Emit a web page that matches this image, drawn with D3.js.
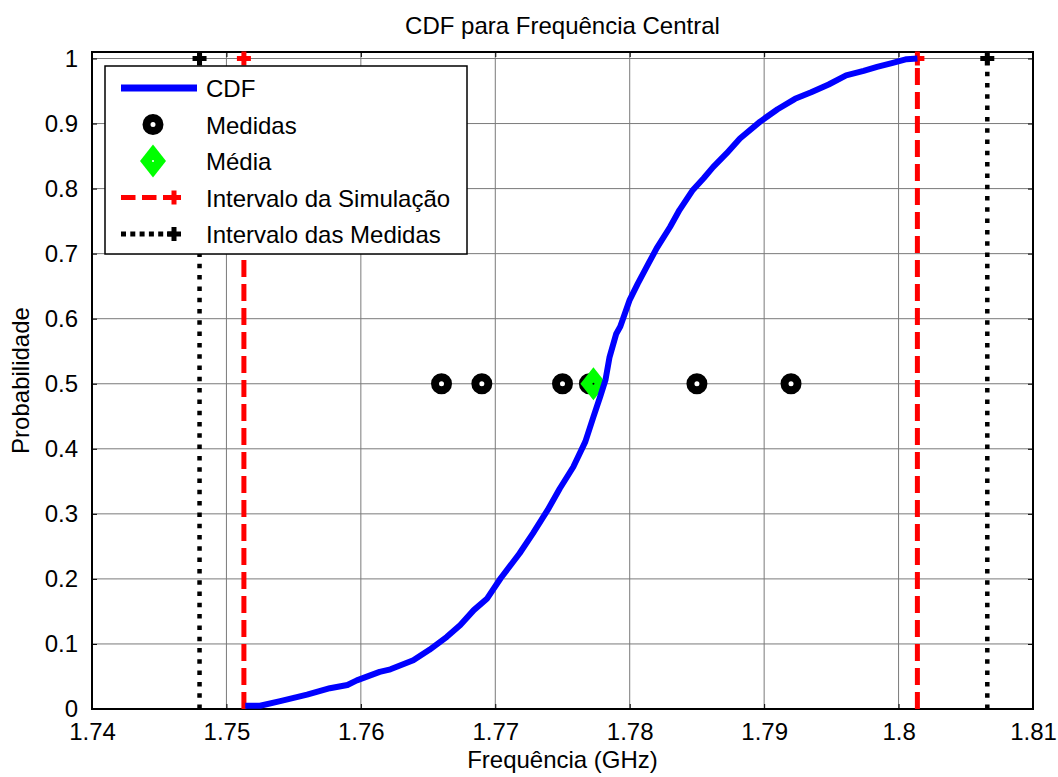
<!DOCTYPE html>
<html>
<head>
<meta charset="utf-8">
<script src="https://cdn.jsdelivr.net/npm/d3@7"></script>
<style>
  html, body { margin: 0; padding: 0; background: #fff; }
  svg { display: block; }
  text { font-family: "Liberation Sans", Arial, sans-serif; fill: #000; }
</style>
</head>
<body>
<svg id="chart" width="1058" height="777"></svg>
<script>
// ---------- data ----------
const cdfFreq = [1.7514, 1.7525, 1.7540, 1.7560, 1.7577, 1.7590, 1.7597, 1.7614, 1.7622, 1.7639,
                 1.7651, 1.7664, 1.7674, 1.7684, 1.7694, 1.7704, 1.7718, 1.7728, 1.7739, 1.7748,
                 1.7758, 1.7767, 1.7773, 1.7778, 1.7782, 1.7785, 1.7790, 1.7793, 1.7800, 1.7806,
                 1.7814, 1.7820, 1.7830, 1.7837, 1.7847, 1.7855, 1.7862, 1.7872, 1.7882, 1.7897,
                 1.7910, 1.7923, 1.7935, 1.7948, 1.7961, 1.7974, 1.7984, 1.7995, 1.8006, 1.8014];
const cdfProb = [0.005, 0.005, 0.012, 0.022, 0.032, 0.037, 0.044, 0.057, 0.061, 0.075,
                 0.091, 0.111, 0.129, 0.152, 0.170, 0.201, 0.239, 0.270, 0.306, 0.339,
                 0.372, 0.411, 0.449, 0.480, 0.506, 0.541, 0.577, 0.588, 0.629, 0.654,
                 0.685, 0.708, 0.741, 0.767, 0.798, 0.816, 0.833, 0.854, 0.877, 0.903,
                 0.922, 0.938, 0.948, 0.960, 0.974, 0.981, 0.987, 0.993, 0.999, 1.000];
const medidasFreq = [1.766, 1.769, 1.775, 1.777, 1.785, 1.792];
const medidasProb = [0.5, 0.5, 0.5, 0.5, 0.5, 0.5];
const mediaFreq = [1.7773];
const mediaProb = [0.5];
const simIntervalFreq = [1.7513, 1.8014];
const medIntervalFreq = [1.7480, 1.8066];
const intervalProb = [0, 1];
const xTicks = [1.74, 1.75, 1.76, 1.77, 1.78, 1.79, 1.80, 1.81];
const xTickLabels = ["1.74", "1.75", "1.76", "1.77", "1.78", "1.79", "1.8", "1.81"];
const yTicks = [0, 0.1, 0.2, 0.3, 0.4, 0.5, 0.6, 0.7, 0.8, 0.9, 1];
const yTickLabels = ["0", "0.1", "0.2", "0.3", "0.4", "0.5", "0.6", "0.7", "0.8", "0.9", "1"];
const legendLabels = ["CDF", "Medidas", "Média", "Intervalo da Simulação", "Intervalo das Medidas"];
const titleText = "CDF para Frequência Central";
const xLabel = "Frequência (GHz)";
const yLabel = "Probabilidade";

// ---------- layout ----------
const L = 92, R = 1033, T = 52, B = 709;
const FS = 24;
const svg = d3.select("#chart");
const x = d3.scaleLinear().domain([1.74, 1.81]).range([L, R]);
const y = d3.scaleLinear().domain([0, 1.01]).range([B, T]);

// grid
const grid = svg.append("g");
grid.selectAll("line.gx").data(xTicks).enter().append("line")
  .attr("x1", d => x(d)).attr("x2", d => x(d)).attr("y1", T).attr("y2", B)
  .attr("stroke", "#7a7a7a").attr("stroke-width", 1);
grid.selectAll("line.gy").data(yTicks).enter().append("line")
  .attr("x1", L).attr("x2", R).attr("y1", d => y(d)).attr("y2", d => y(d))
  .attr("stroke", "#7a7a7a").attr("stroke-width", 1);

// axes (ticks inward)
const tickLen = 5;
const axB = svg.append("g").attr("transform", `translate(0,${B})`)
  .call(d3.axisBottom(x).tickValues(xTicks).tickFormat((d, i) => xTickLabels[i]).tickSizeInner(-tickLen).tickSizeOuter(0).tickPadding(14));
const axT = svg.append("g").attr("transform", `translate(0,${T})`)
  .call(d3.axisTop(x).tickValues(xTicks).tickFormat("").tickSizeInner(-tickLen).tickSizeOuter(0));
const axL = svg.append("g").attr("transform", `translate(${L},0)`)
  .call(d3.axisLeft(y).tickValues(yTicks).tickFormat((d, i) => yTickLabels[i]).tickSizeInner(-tickLen).tickSizeOuter(0).tickPadding(14));
const axR = svg.append("g").attr("transform", `translate(${R},0)`)
  .call(d3.axisRight(y).tickValues(yTicks).tickFormat("").tickSizeInner(-tickLen).tickSizeOuter(0));
[axB, axT, axL, axR].forEach(a => {
  a.select(".domain").remove();
  a.selectAll(".tick line").attr("stroke", "#000").attr("stroke-width", 1);
  a.selectAll("text").attr("font-size", FS).attr("font-family", "Liberation Sans, Arial, sans-serif").attr("fill", "#000");
});
axB.selectAll("text").attr("dy", "0.71em");
svg.append("rect").attr("x", L).attr("y", T).attr("width", R - L).attr("height", B - T)
  .attr("fill", "none").attr("stroke", "#000").attr("stroke-width", 2);

// plus marker path
function plusPath(s) { return `M${-s},0H${s}M0,${-s}V${s}`; }

// interval lines
function intervalLine(freqs, color, dash, width) {
  const g = svg.append("g");
  freqs.forEach(f => {
    g.append("line").attr("x1", x(f)).attr("x2", x(f)).attr("y1", y(intervalProb[0])).attr("y2", y(intervalProb[1]))
      .attr("stroke", color).attr("stroke-width", width).attr("stroke-dasharray", dash);
    g.append("path").attr("d", plusPath(7)).attr("transform", `translate(${x(f)},${y(intervalProb[1])})`)
      .attr("stroke", color).attr("stroke-width", 5).attr("fill", "none");
  });
}
intervalLine(medIntervalFreq, "#000", "4.5,6.8", 4.5);
intervalLine(simIntervalFreq, "#ff0000", "17,7", 5);

// medidas
const diamondPath = (w, h) => `M0,${-h}L${w},0L0,${h}L${-w},0Z`;
svg.append("g").selectAll("circle").data(medidasFreq).enter().append("circle")
  .attr("cx", d => x(d)).attr("cy", (d, i) => y(medidasProb[i])).attr("r", 6.5)
  .attr("fill", "#fff").attr("stroke", "#000").attr("stroke-width", 8);

// media
svg.append("g").selectAll("path").data(mediaFreq).enter().append("path")
  .attr("d", diamondPath(13, 16.5)).attr("transform", (d, i) => `translate(${x(d)},${y(mediaProb[i])})`)
  .attr("fill", "#00ff00").attr("stroke", "none");
svg.append("g").selectAll("circle").data(mediaFreq).enter().append("circle")
  .attr("cx", d => x(d)).attr("cy", (d, i) => y(mediaProb[i])).attr("r", 1).attr("fill", "#000");

// CDF
const line = d3.line().x((d, i) => x(cdfFreq[i])).y((d, i) => y(cdfProb[i]));
svg.append("path").datum(cdfFreq).attr("d", line)
  .attr("fill", "none").attr("stroke", "#0000ff").attr("stroke-width", 6).attr("stroke-linejoin", "round");

// title and labels
svg.append("text").attr("x", (L + R) / 2).attr("y", 34).attr("text-anchor", "middle").attr("font-size", FS).text(titleText);
svg.append("text").attr("x", (L + R) / 2).attr("y", 768).attr("text-anchor", "middle").attr("font-size", FS).text(xLabel);
svg.append("text").attr("transform", `translate(29,${(T + B) / 2}) rotate(-90)`).attr("text-anchor", "middle").attr("font-size", FS).text(yLabel);

// legend
const lg = svg.append("g");
const lgX = 105, lgY = 66, lgW = 362, lgH = 188;
lg.append("rect").attr("x", lgX).attr("y", lgY).attr("width", lgW).attr("height", lgH)
  .attr("fill", "#fff").attr("stroke", "#000").attr("stroke-width", 1.5);
const rowY = i => lgY + 22 + i * 36.5;
const sx1 = lgX + 16, sx2 = lgX + 92, smid = (sx1 + sx2) / 2 + 15, txtX = lgX + 101;
legendLabels.forEach((lab, i) => {
  lg.append("text").attr("x", txtX).attr("y", rowY(i) + 9).attr("font-size", FS).text(lab);
});
// CDF
lg.append("line").attr("x1", sx1).attr("x2", sx2).attr("y1", rowY(0)).attr("y2", rowY(0))
  .attr("stroke", "#0000ff").attr("stroke-width", 7);
// Medidas
lg.append("circle").attr("cx", (sx1 + sx2) / 2 - 6).attr("cy", rowY(1)).attr("r", 6.5)
  .attr("fill", "#fff").attr("stroke", "#000").attr("stroke-width", 8);
// Media
lg.append("path").attr("d", diamondPath(13, 16.5)).attr("transform", `translate(${(sx1 + sx2) / 2 - 6},${rowY(2)})`)
  .attr("fill", "#00ff00");
lg.append("circle").attr("cx", (sx1 + sx2) / 2 - 6).attr("cy", rowY(2)).attr("r", 1).attr("fill", "#fff");
// Sim interval
lg.append("line").attr("x1", sx1).attr("x2", smid).attr("y1", rowY(3)).attr("y2", rowY(3))
  .attr("stroke", "#ff0000").attr("stroke-width", 5).attr("stroke-dasharray", "14.5,6.5");
lg.append("path").attr("d", plusPath(7)).attr("transform", `translate(${smid},${rowY(3)})`)
  .attr("stroke", "#ff0000").attr("stroke-width", 5);
// Med interval
lg.append("line").attr("x1", sx1).attr("x2", smid).attr("y1", rowY(4)).attr("y2", rowY(4))
  .attr("stroke", "#000").attr("stroke-width", 5).attr("stroke-dasharray", "5,4.3");
lg.append("path").attr("d", plusPath(7)).attr("transform", `translate(${smid},${rowY(4)})`)
  .attr("stroke", "#000").attr("stroke-width", 5);
</script>
</body>
</html>
